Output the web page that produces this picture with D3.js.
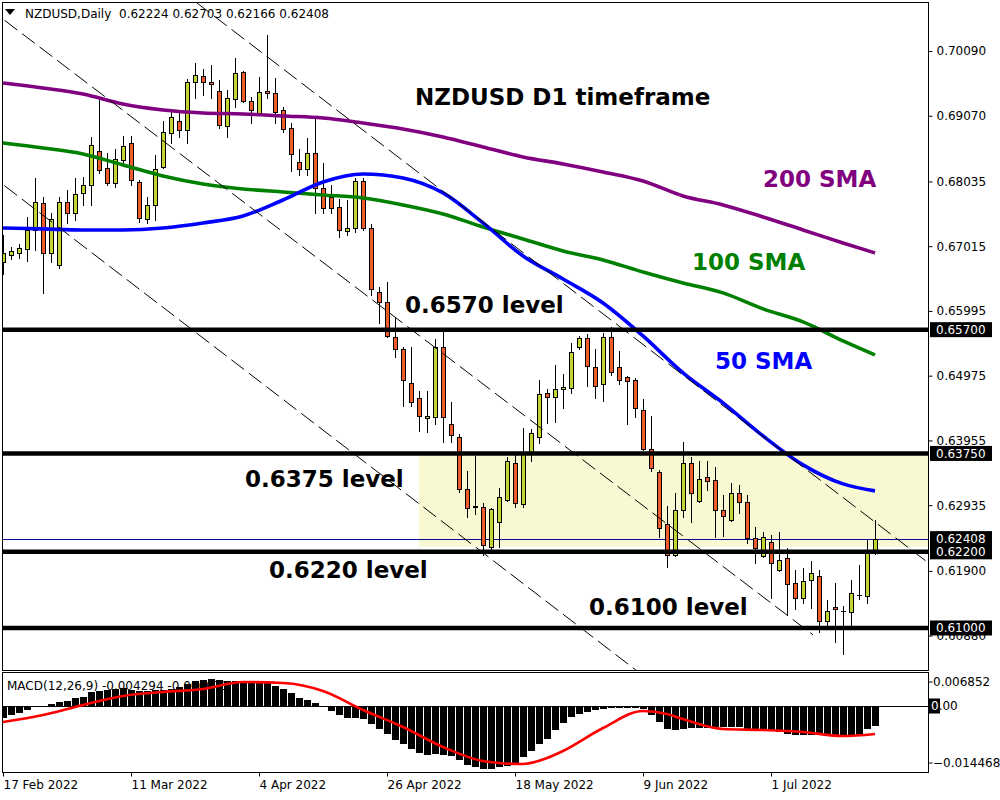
<!DOCTYPE html>
<html><head><meta charset="utf-8">
<script src="https://cdn.jsdelivr.net/npm/d3@7"></script>
<style>body{margin:0;background:#fff}svg{display:block}</style>
</head><body><svg id="c" width="1000" height="800"></svg>
<script>
// ---------------- DATA ----------------
const symbolTitle = "NZDUSD,Daily";
const ohlcText = "0.62224 0.62703 0.62166 0.62408";
const dateLabels = ["17 Feb 2022","11 Mar 2022","4 Apr 2022","26 Apr 2022","18 May 2022","9 Jun 2022","1 Jul 2022"];
const dateIdx = [0,16,32,48,64,80,96];

const open = [0.66767,0.66877,0.66909,0.66972,0.67271,0.67696,0.66909,0.6672,0.67712,0.67539,
0.67854,0.6798,0.68515,0.68247,0.68011,0.68373,0.68641,0.68027,0.67444,0.67665,
0.68263,0.68799,0.68988,0.68846,0.69602,0.69696,0.69602,0.6946,0.68909,0.69334,
0.69759,0.69303,0.69114,0.6946,0.69429,0.69161,0.68877,0.68342,0.68232,0.68484,
0.67932,0.67791,0.67633,0.67255,0.67302,0.68043,0.67302,0.66294,0.66137,0.65586,
0.65397,0.64861,0.64625,0.6431,0.64326,0.65428,0.64215,0.64011,0.63192,0.62924,
0.62908,0.62278,0.62672,0.63018,0.63601,0.62955,0.63774,0.64011,0.64704,0.64641,
0.64767,0.64782,0.65428,0.6557,0.65113,0.64845,0.65586,0.65113,0.64956,0.64908,
0.64436,0.63821,0.63459,0.6264,0.62152,0.62861,0.63601,0.63003,0.63381,0.63333,
0.62861,0.62703,0.63129,0.62987,0.6242,0.62136,0.62357,0.61916,0.62105,0.61711,
0.61475,0.61758,0.61821,0.61113,0.61333,0.6127,0.61254,0.61522,0.61507,0.62224];
const high = [0.67192,0.67003,0.6705,0.67476,0.6809,0.67791,0.67539,0.67791,0.67901,0.6809,
0.68106,0.68736,0.69318,0.68484,0.68547,0.68751,0.68751,0.68058,0.67791,0.68452,
0.68988,0.69129,0.69129,0.69649,0.69901,0.69807,0.6987,0.69633,0.69476,0.6998,
0.69775,0.69366,0.69681,0.70342,0.69665,0.69208,0.68956,0.68547,0.6872,0.69035,
0.68326,0.6798,0.67759,0.67743,0.6809,0.6809,0.67365,0.66373,0.66452,0.65901,
0.65428,0.65428,0.64735,0.64735,0.65554,0.65664,0.64562,0.64058,0.63475,0.63711,
0.62971,0.62892,0.63207,0.63696,0.63774,0.64152,0.64137,0.64908,0.64767,0.65145,
0.65003,0.65491,0.65601,0.65633,0.65397,0.65649,0.65743,0.65365,0.64971,0.6494,
0.64609,0.64341,0.6349,0.62924,0.63129,0.63932,0.63696,0.63633,0.63633,0.63538,
0.63097,0.63286,0.63255,0.63097,0.62593,0.62514,0.62467,0.62514,0.62262,0.61916,
0.61947,0.62058,0.61916,0.61443,0.61711,0.61349,0.61758,0.61995,0.62388,0.62703];
const low = [0.66578,0.66814,0.6683,0.66783,0.66956,0.66279,0.66767,0.66672,0.67381,0.67428,
0.67665,0.67665,0.68169,0.6798,0.67948,0.68326,0.6798,0.67397,0.67381,0.67428,
0.68247,0.68641,0.68736,0.68641,0.6935,0.69397,0.6935,0.68877,0.68736,0.69208,
0.69287,0.68956,0.69082,0.6935,0.68956,0.68814,0.682,0.68137,0.68137,0.67539,
0.67539,0.67539,0.67161,0.67192,0.67239,0.67271,0.66247,0.65806,0.65585,0.65271,
0.64499,0.64499,0.64105,0.64089,0.64215,0.63932,0.63932,0.63144,0.62751,0.62798,
0.62152,0.62247,0.62278,0.63003,0.62908,0.62908,0.63633,0.63916,0.64231,0.64247,
0.64467,0.64704,0.65397,0.64814,0.64625,0.64578,0.64987,0.64845,0.64215,0.64326,
0.63805,0.63475,0.62436,0.61963,0.62136,0.62751,0.62672,0.62987,0.63176,0.62436,
0.62452,0.62688,0.62814,0.62341,0.62026,0.6212,0.61475,0.619,0.61207,0.61302,
0.61396,0.61318,0.60939,0.61034,0.60782,0.60593,0.61034,0.61459,0.61396,0.62166];
const close = [0.66909,0.6694,0.66987,0.67271,0.67712,0.66909,0.67444,0.67712,0.67539,0.67838,
0.6798,0.6861,0.68216,0.68011,0.68389,0.68594,0.68058,0.6746,0.67665,0.68232,
0.68814,0.69051,0.68846,0.69602,0.69712,0.69602,0.6957,0.68925,0.6935,0.69744,
0.69303,0.69161,0.69444,0.69429,0.69129,0.68862,0.68468,0.68232,0.68484,0.67932,
0.67617,0.67617,0.67271,0.67302,0.68043,0.67302,0.66342,0.66137,0.65601,0.65397,
0.64908,0.64562,0.64341,0.64341,0.65428,0.64318,0.64042,0.63192,0.62892,0.62908,
0.6231,0.62877,0.63066,0.63633,0.62971,0.63774,0.64074,0.64688,0.64641,0.64767,
0.64798,0.65349,0.6557,0.65129,0.64814,0.65586,0.65034,0.64908,0.64893,0.64467,
0.63821,0.63522,0.62577,0.62152,0.62861,0.63601,0.63129,0.63349,0.63318,0.62861,
0.62766,0.63129,0.62987,0.6242,0.62262,0.62436,0.62026,0.62073,0.61695,0.61475,
0.61743,0.61869,0.61113,0.6127,0.61302,0.6127,0.61554,0.61522,0.62184,0.62408];

const smaIdx = [0,5,10,15,20,25,30,35,40,45,50,55,60,65,70,75,80,85,90,95,100,105,109];
const sma200 = [0.69586,0.69507,0.69413,0.69255,0.69161,0.69114,0.69098,0.69066,0.69035,0.68956,0.68862,0.68736,0.68578,0.68421,0.6831,0.68184,0.68043,0.67806,0.67665,0.67476,0.67271,0.67066,0.66909];
const sma100 = [0.68641,0.68562,0.68468,0.68295,0.68121,0.67995,0.67917,0.67869,0.67822,0.67775,0.67665,0.67523,0.67318,0.67129,0.6694,0.66798,0.66609,0.66436,0.66279,0.66027,0.65822,0.65523,0.65302];
const sma50 = [0.67302,0.67287,0.67271,0.67271,0.67302,0.67381,0.67491,0.67743,0.68027,0.68153,0.6809,0.67854,0.67381,0.66861,0.66499,0.66121,0.65601,0.65019,0.64546,0.64026,0.6357,0.6327,0.6316];

const levels = [0.657,0.6375,0.622,0.61];
const priceTicks = [0.70090,0.69070,0.68035,0.67015,0.65995,0.64975,0.63955,0.62935,0.61900,0.60880];
const markedPrices = [0.657,0.6375,0.62408,0.622,0.61];
const bidPrice = 0.62408;
const zoneStartIdx = 52;
const zonePrices = [0.6375,0.6228];
// channel lines: two anchor points each [barIndex, price]; third entry = last bar index drawn
const channelA = [[24.25,0.70846],[115.5,0.62042],118];
const channelB = [[1.125,0.70484],[101.25,0.60892],101.25];
const channelC = [[0.875,0.67901],[78.75,0.60372],118];

const macdHist = [-0.00261,-0.00196,-0.00152,-0.00087,-0.0001,0.0001,0.00044,0.00087,0.00109,0.00174,
0.00196,0.00305,0.00326,0.00348,0.0037,0.00392,0.00348,0.00326,0.00326,0.00348,
0.00348,0.0037,0.00413,0.00479,0.00544,0.00566,0.00588,0.00566,0.00544,0.00544,
0.00544,0.00522,0.00544,0.005,0.00435,0.0037,0.00283,0.00174,0.00131,0.00065,
-0.00022,-0.00109,-0.00196,-0.00261,-0.00261,-0.00283,-0.00392,-0.005,-0.00609,-0.0074,
-0.00827,-0.00936,-0.01023,-0.01066,-0.01044,-0.01066,-0.01088,-0.01175,-0.01284,-0.01327,
-0.01371,-0.01371,-0.01327,-0.01306,-0.0124,-0.0111,-0.00979,-0.00827,-0.00718,-0.00522,
-0.0037,-0.00239,-0.00174,-0.00131,-0.00087,-0.00065,-0.00044,-0.00044,-0.00044,-0.00044,
-0.00065,-0.00196,-0.00348,-0.005,-0.00522,-0.005,-0.00479,-0.00479,-0.00479,-0.00457,
-0.00457,-0.00457,-0.00457,-0.005,-0.00522,-0.00522,-0.00544,-0.00566,-0.00609,-0.00631,
-0.00631,-0.00631,-0.00631,-0.00653,-0.00653,-0.00653,-0.00653,-0.00631,-0.005,-0.00435];
const sigIdx = [0,5,10,15,20,25,30,35,40,45,50,55,60,62,65,68,70,75,80,83,85,90,95,100,105,109];
const macdSignal = [-0.00348,-0.00196,0.00022,0.00218,0.00305,0.0037,0.00522,0.005,0.00326,-0.00087,-0.00457,-0.00892,-0.01197,-0.0124,-0.01262,-0.01132,-0.00979,-0.00479,-0.00109,-0.00174,-0.00283,-0.005,-0.00522,-0.00566,-0.00653,-0.00609];
const macdRange = [-0.014468,0.006852];
const macdTitle = "MACD(12,26,9) -0.004294 -0.006071";

// ---------------- DRAW ----------------
const svg = d3.select("#c");
const L = 2.5, R = 928.5, T = 2.5, B = 670.5, MT = 672.5, MB = 772.5;
const x = d3.scaleLinear().domain([0,115]).range([3,923]);
const y = d3.scaleLinear().domain([0.61,0.7009]).range([628,51]);
const ym = d3.scaleLinear().domain(macdRange).range([772.5,674.5]);
const font = "DejaVu Sans, Verdana, sans-serif";
const bull = "#c4d431", bear = "#f15a29";

const defs = svg.append("defs");
defs.append("clipPath").attr("id","cm").append("rect").attr("x",L).attr("y",T).attr("width",R-L).attr("height",B-T);
defs.append("clipPath").attr("id","cd").append("rect").attr("x",L).attr("y",MT).attr("width",R-L).attr("height",MB-MT);

const main = svg.append("g").attr("clip-path","url(#cm)");

// zone
main.append("rect").attr("x",x(zoneStartIdx)).attr("y",y(zonePrices[0]))
  .attr("width",R - x(zoneStartIdx)).attr("height",y(zonePrices[1]) - y(zonePrices[0]))
  .attr("fill","#f8f8d3");

// bid line
main.append("line").attr("x1",L).attr("x2",R).attr("y1",Math.round(y(bidPrice))+0.5).attr("y2",Math.round(y(bidPrice))+0.5)
  .attr("stroke","#0a0a96").attr("stroke-width",1);

// candles
const idx = d3.range(open.length);
const cg = main.append("g").attr("shape-rendering","crispEdges");
idx.forEach(i=>{
  const xi = Math.round(x(i));
  cg.append("line").attr("x1",xi+0.5).attr("x2",xi+0.5)
    .attr("y1",Math.round(y(high[i]))).attr("y2",Math.round(y(low[i]))+1)
    .attr("stroke","#000").attr("stroke-width",1);
  const yo = Math.round(y(open[i])), yc = Math.round(y(close[i]));
  if (Math.abs(yo-yc) < 1) {
    cg.append("line").attr("x1",xi-2).attr("x2",xi+3).attr("y1",yo+0.5).attr("y2",yo+0.5)
      .attr("stroke","#000").attr("stroke-width",1.5);
  } else {
    const top = Math.min(yo,yc), h = Math.abs(yo-yc);
    cg.append("rect").attr("x",xi-1.5).attr("y",top+0.5).attr("width",4).attr("height",h)
      .attr("fill", close[i] >= open[i] ? bull : bear).attr("stroke","#000").attr("stroke-width",1);
  }
});

// SMAs
const smaLine = d3.line().x(d=>x(d[0])).y(d=>y(d[1])).curve(d3.curveMonotoneX);
[[sma200,"#800080"],[sma100,"#008000"],[sma50,"#0000ff"]].forEach(([arr,col])=>{
  main.append("path").attr("d",smaLine(smaIdx.map((k,j)=>[k,arr[j]])))
    .attr("fill","none").attr("stroke",col).attr("stroke-width",3.6).attr("stroke-linejoin","round");
});

// channel lines
[channelA,channelB,channelC].forEach(ch=>{
  const [[i1,p1],[i2,p2],endIdx] = ch;
  const s = (p2-p1)/(i2-i1);
  const a = -2, b = endIdx;
  main.append("line").attr("x1",x(a)).attr("y1",y(p1+s*(a-i1))).attr("x2",x(b)).attr("y2",y(p1+s*(b-i1)))
    .attr("stroke","#000").attr("stroke-width",1).attr("stroke-dasharray","16,6");
});

// level lines
levels.forEach(v=>{
  main.append("line").attr("x1",L-1).attr("x2",R).attr("y1",y(v)).attr("y2",y(v))
    .attr("stroke","#000").attr("stroke-width",4.5);
});

// annotations
const ann = [
  ["NZDUSD D1 timeframe",415,105,"#000"],
  ["200 SMA",763,187,"#800080"],
  ["100 SMA",692,270,"#008000"],
  ["0.6570 level",405,313,"#000"],
  ["50 SMA",715,369,"#0000ff"],
  ["0.6375 level",245,487,"#000"],
  ["0.6220 level",269,578,"#000"],
  ["0.6100 level",589,615,"#000"]
];
ann.forEach(([t,tx,ty,col])=>{
  svg.append("text").attr("x",tx).attr("y",ty).text(t)
    .attr("font-family",font).attr("font-weight","bold").attr("font-size",23).attr("fill",col);
});

// frames
svg.append("rect").attr("x",L).attr("y",T).attr("width",R-L).attr("height",B-T).attr("fill","none").attr("stroke","#000");
svg.append("rect").attr("x",L).attr("y",MT).attr("width",R-L).attr("height",MB-MT).attr("fill","none").attr("stroke","#000");

// title
svg.append("path").attr("d","M5,9L15,9L10,15Z").attr("fill","#000");
svg.append("text").attr("x",25).attr("y",18).text(symbolTitle).attr("font-family",font).attr("font-size",12).attr("fill","#000");
svg.append("text").attr("x",119).attr("y",18).text(ohlcText).attr("font-family",font).attr("font-size",12).attr("fill","#000");

// price axis
const pa = svg.append("g").attr("transform",`translate(${R},0)`)
  .call(d3.axisRight(y).tickValues(priceTicks).tickSize(4).tickSizeOuter(0).tickFormat(d3.format(".5f")));
pa.select(".domain").remove();
pa.selectAll("text").attr("font-family",font).attr("font-size",12).attr("fill","#000").attr("x",8);
pa.selectAll("line").attr("stroke","#000");

// marked price boxes
markedPrices.forEach(v=>{
  const yy = y(v);
  svg.append("rect").attr("x",930).attr("y",yy-7.5).attr("width",62).attr("height",15).attr("fill","#000");
  svg.append("text").attr("x",936).attr("y",yy).attr("dy","0.36em").text(d3.format(".5f")(v))
    .attr("font-family",font).attr("font-size",12).attr("fill","#fff");
});

// MACD panel
const md = svg.append("g").attr("clip-path","url(#cd)");
md.append("text").attr("x",7).attr("y",690).text(macdTitle).attr("font-family",font).attr("font-size",12).attr("fill","#000");
md.append("g").attr("shape-rendering","crispEdges").selectAll("rect").data(idx).join("rect")
  .attr("x",i=>Math.round(x(i))-3).attr("width",7)
  .attr("y",i=>Math.round(Math.min(ym(0),ym(macdHist[i]))))
  .attr("height",i=>Math.max(1,Math.round(Math.abs(ym(macdHist[i])-ym(0)))))
  .attr("fill","#000");
md.append("line").attr("x1",L).attr("x2",R).attr("y1",Math.round(ym(0))+0.5).attr("y2",Math.round(ym(0))+0.5)
  .attr("stroke","#000").attr("stroke-width",1);
md.append("path").attr("d",d3.line().x(d=>x(d[0])).y(d=>ym(d[1])).curve(d3.curveMonotoneX)(sigIdx.map((k,j)=>[k,macdSignal[j]])))
  .attr("fill","none").attr("stroke","#ff0000").attr("stroke-width",2.6);

// MACD axis labels
const mLab = [[macdRange[1],682],[macdRange[0],763]];
mLab.forEach(([v,yy])=>{
  svg.append("line").attr("x1",R).attr("x2",R+4).attr("y1",yy).attr("y2",yy).attr("stroke","#000");
  svg.append("text").attr("x",933).attr("y",yy).attr("dy","0.36em").text(d3.format(".6f")(v))
    .attr("font-family",font).attr("font-size",12).attr("fill","#000");
});
const y0 = ym(0);
svg.append("line").attr("x1",R).attr("x2",940).attr("y1",Math.round(y0)+0.5).attr("y2",Math.round(y0)+0.5).attr("stroke","#000");
svg.append("rect").attr("x",929).attr("y",y0-7.5).attr("width",11).attr("height",15).attr("fill","#000");
defs.append("clipPath").attr("id","cz").append("rect").attr("x",929).attr("y",y0-7.5).attr("width",11).attr("height",15);
svg.append("text").attr("x",931).attr("y",y0).attr("dy","0.36em").text("0.00").attr("font-family",font).attr("font-size",12).attr("fill","#000");
svg.append("text").attr("x",931).attr("y",y0).attr("dy","0.36em").text("0.00").attr("font-family",font).attr("font-size",12).attr("fill","#fff").attr("clip-path","url(#cz)");

// date axis
const da = svg.append("g").attr("transform",`translate(0,${MB})`)
  .call(d3.axisBottom(x).tickValues(dateIdx).tickSize(4).tickSizeOuter(0).tickFormat((d,i)=>dateLabels[i]));
da.select(".domain").remove();
da.selectAll("text").attr("font-family",font).attr("font-size",12).attr("fill","#000").attr("text-anchor","start").attr("x",0).attr("y",8);
da.selectAll("line").attr("stroke","#000");
</script></body></html>
